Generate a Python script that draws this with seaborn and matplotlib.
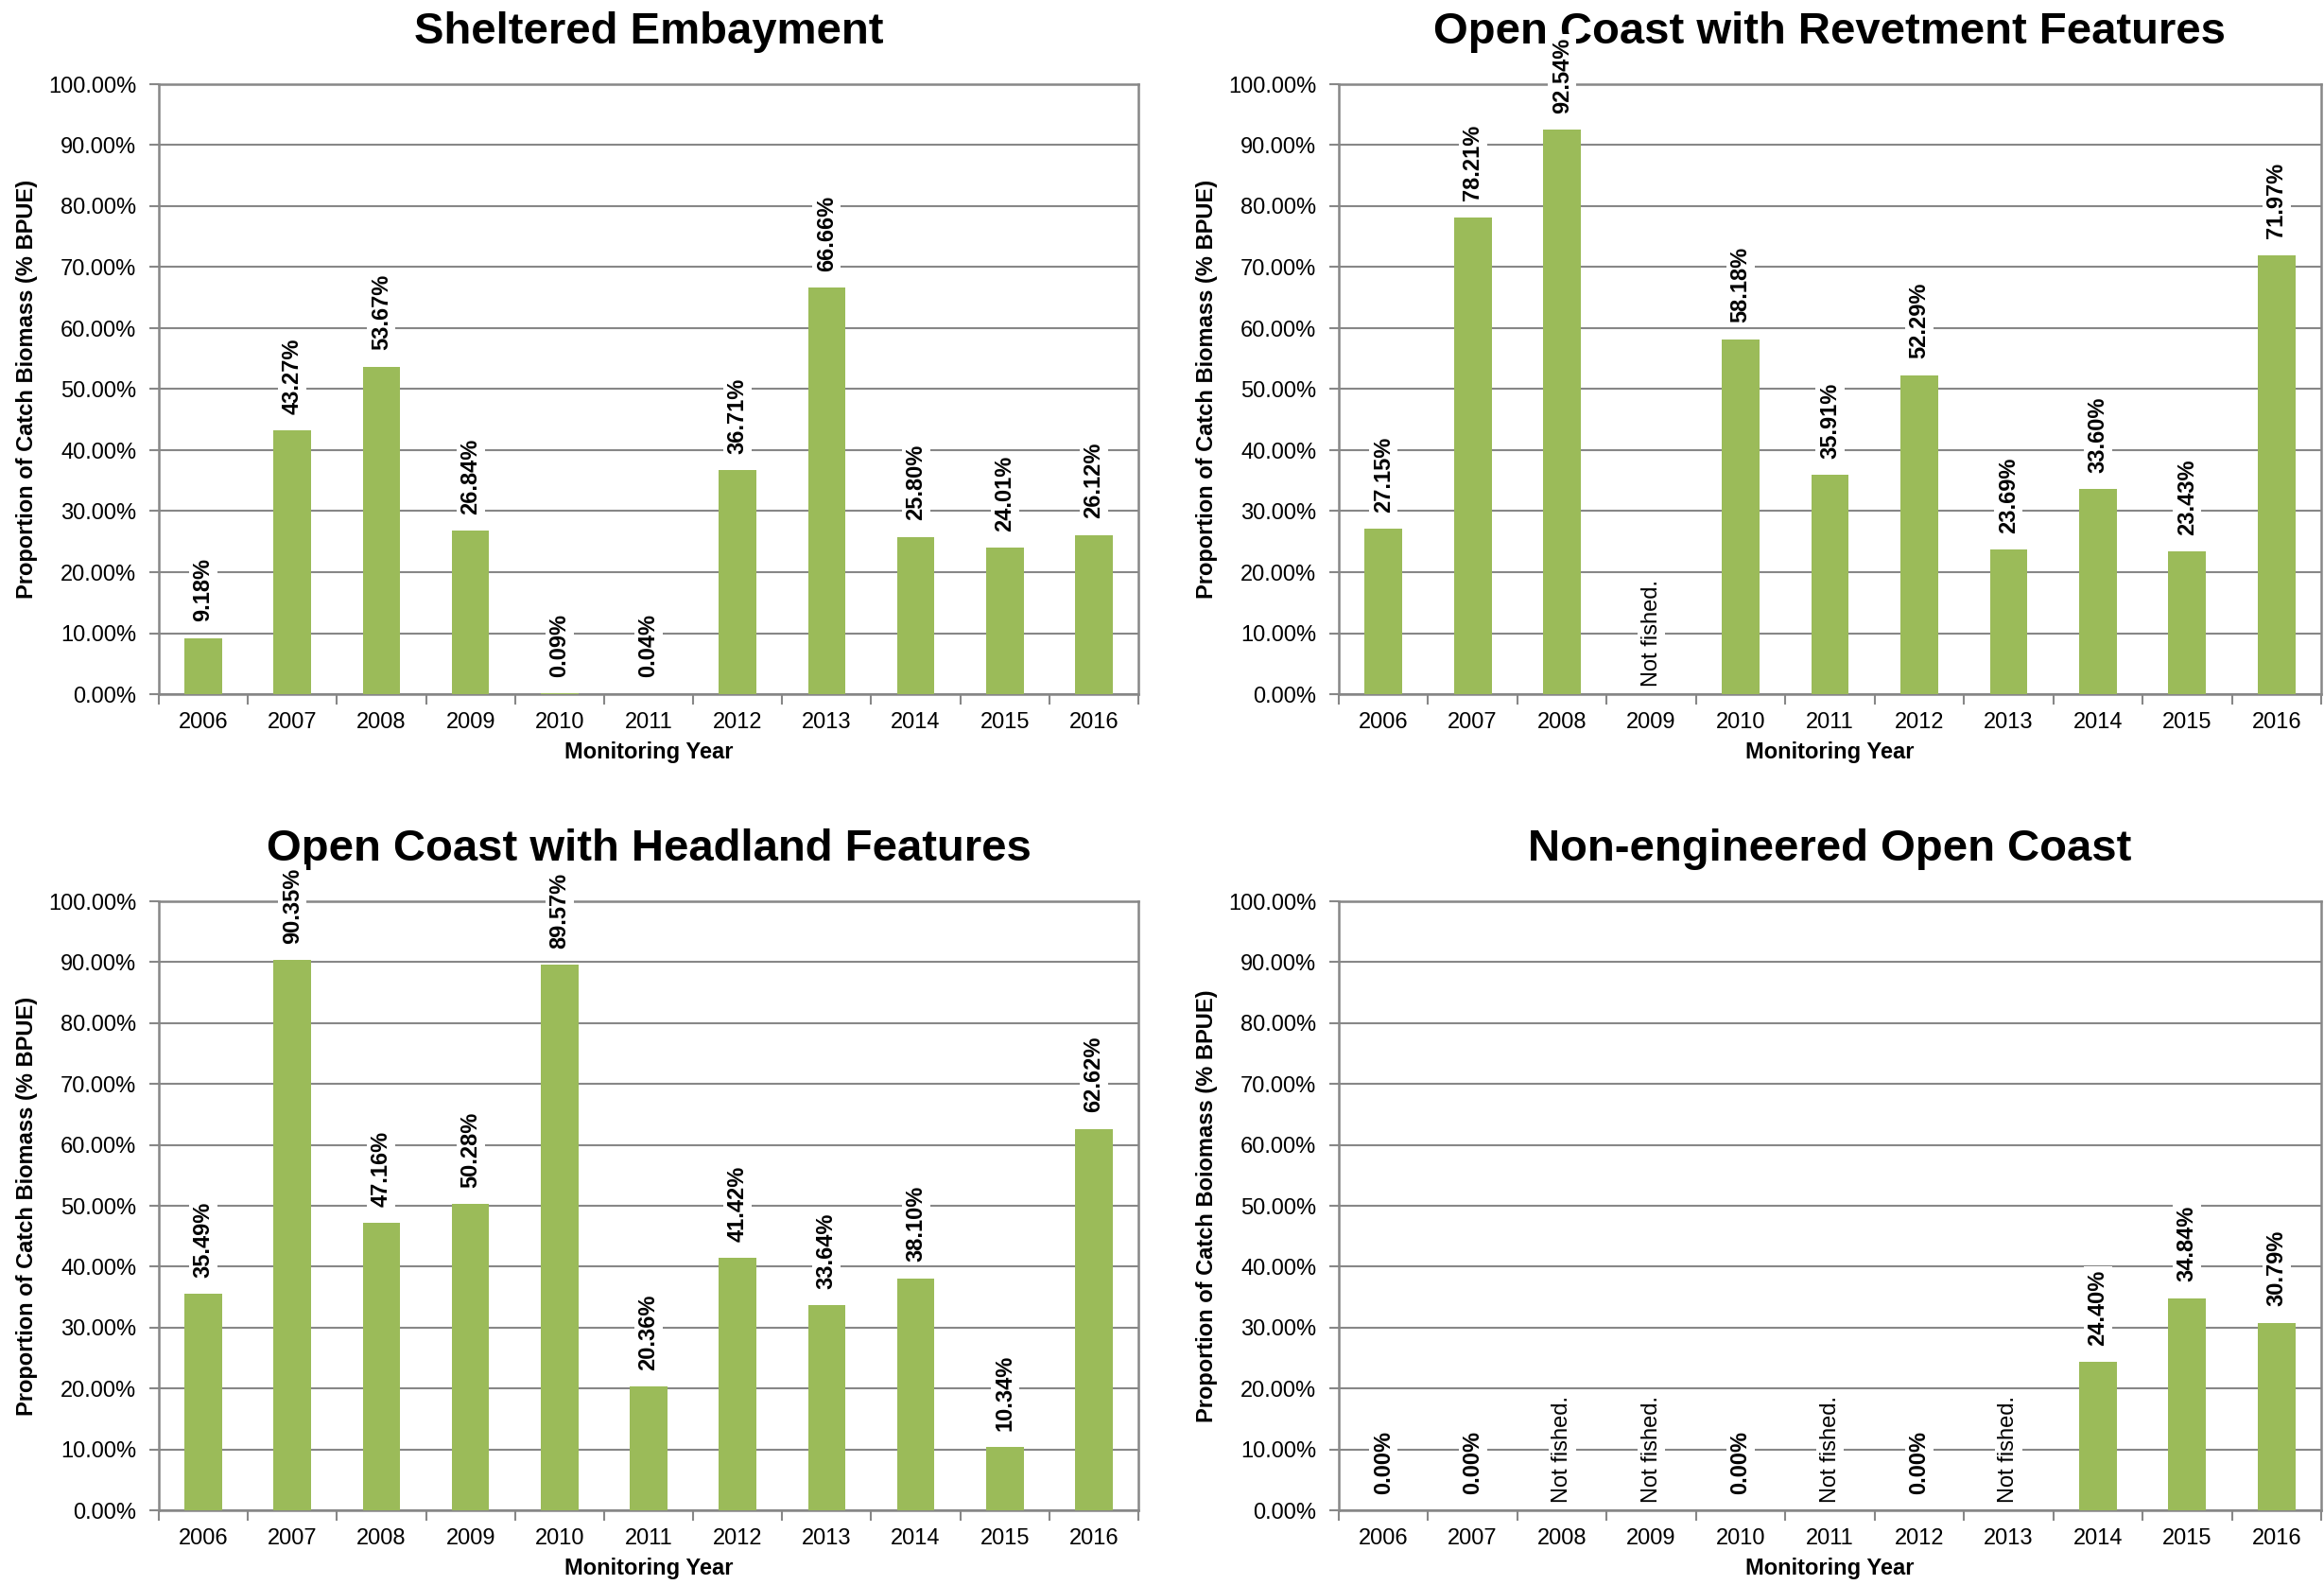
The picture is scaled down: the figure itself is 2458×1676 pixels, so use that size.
import numpy as np
import pandas as pd
import matplotlib
matplotlib.use("Agg")
import matplotlib.pyplot as plt
import seaborn as sns

# ---- data -------------------------------------------------------------
years = ["2006", "2007", "2008", "2009", "2010", "2011",
         "2012", "2013", "2014", "2015", "2016"]

# None marks a year in which the site was not fished
sheltered = [9.18, 43.27, 53.67, 26.84, 0.09, 0.04, 36.71, 66.66, 25.80, 24.01, 26.12]
revetment = [27.15, 78.21, 92.54, None, 58.18, 35.91, 52.29, 23.69, 33.60, 23.43, 71.97]
headland = [35.49, 90.35, 47.16, 50.28, 89.57, 20.36, 41.42, 33.64, 38.10, 10.34, 62.62]
nonengineered = [0.00, 0.00, None, None, 0.00, None, 0.00, None, 24.40, 34.84, 30.79]

titles = ["Sheltered Embayment", "Open Coast with Revetment Features",
          "Open Coast with Headland Features", "Non-engineered Open Coast"]
ylabels = ["Proportion of Catch Biomass (% BPUE)",
           "Proportion of Catch Biomass (% BPUE)",
           "Proportion of Catch Biomass (% BPUE)",
           "Proportion of Catch Boiomass (% BPUE)"]
xlabel = "Monitoring Year"
yticks = [0, 10, 20, 30, 40, 50, 60, 70, 80, 90, 100]
not_fished_text = "Not fished."

# ---- style ------------------------------------------------------------
sns.set_theme(style="white")
plt.rcParams["font.family"] = ["Liberation Sans", "DejaVu Sans"]
plt.rcParams["text.color"] = "black"
plt.rcParams["axes.labelcolor"] = "black"
plt.rcParams["axes.titlecolor"] = "black"

BAR = "#9BBB59"
GRID = "#878787"
FS = 17

fig = plt.figure(figsize=(24.58, 16.76), dpi=100)
W, H = 2458, 1676
boxes = [(168, 89, 1204, 734), (1416, 89, 2455, 734),
         (168, 953, 1204, 1597), (1416, 953, 2455, 1597)]
series = [sheltered, revetment, headland, nonengineered]

for (x0, y0, x1, y1), vals, title, ylab in zip(boxes, series, titles, ylabels):
    ax = fig.add_axes([x0 / W, 1 - y1 / H, (x1 - x0) / W, (y1 - y0) / H])
    df = pd.DataFrame({"year": years,
                       "value": [np.nan if v is None else v for v in vals]})
    sns.barplot(data=df, x="year", y="value", color=BAR, width=0.42,
                saturation=1, ax=ax, zorder=3, edgecolor="none")

    ax.set_ylim(0, 100)
    ax.set_xlim(-0.5, len(years) - 0.5)
    ax.set_yticks(yticks)
    ax.set_yticklabels([f"{t:.2f}%" for t in yticks], fontsize=FS)
    ax.yaxis.grid(True, color=GRID, linewidth=1.5, zorder=0)
    ax.xaxis.grid(False)
    ax.set_axisbelow(True)

    # category labels at centres, tick marks at the category boundaries
    ax.set_xticks(range(len(years)))
    ax.set_xticklabels(years, fontsize=FS)
    ax.set_xticks(np.arange(-0.5, len(years)), minor=True)
    ax.tick_params(axis="x", which="major", length=0, pad=14, labelcolor="black")
    ax.tick_params(axis="x", which="minor", length=8, width=1.5, color=GRID,
                   direction="out", bottom=True)
    ax.tick_params(axis="y", which="major", length=7, width=1.5, color=GRID,
                   direction="out", left=True, pad=10, labelcolor="black")

    for s in ax.spines.values():
        s.set_visible(True)
        s.set_color(GRID)
        s.set_linewidth(1.8)

    ax.set_xlabel(xlabel, fontsize=FS, fontweight="bold", labelpad=6)
    ax.set_ylabel(ylab, fontsize=FS, fontweight="bold", labelpad=8)
    ax.set_title(title, fontsize=34, fontweight="bold", pad=31, color="black")

    # value labels above each bar
    for i, v in enumerate(vals):
        if v is None:
            ax.annotate(not_fished_text, (i, 0), xytext=(0, 6),
                        textcoords="offset points", rotation=90,
                        ha="center", va="bottom", fontsize=FS, zorder=5,
                        color="black",
                        bbox=dict(boxstyle="square,pad=0.15", fc="white", ec="none"))
        else:
            ax.annotate(f"{v:.2f}%", (i, v), xytext=(0, 12.5),
                        textcoords="offset points", rotation=90,
                        ha="center", va="bottom", fontsize=FS,
                        fontweight="bold", zorder=5, annotation_clip=False,
                        color="black",
                        bbox=dict(boxstyle="square,pad=0.15", fc="white", ec="none"))

fig.savefig("out.png", dpi=100, facecolor="white")
